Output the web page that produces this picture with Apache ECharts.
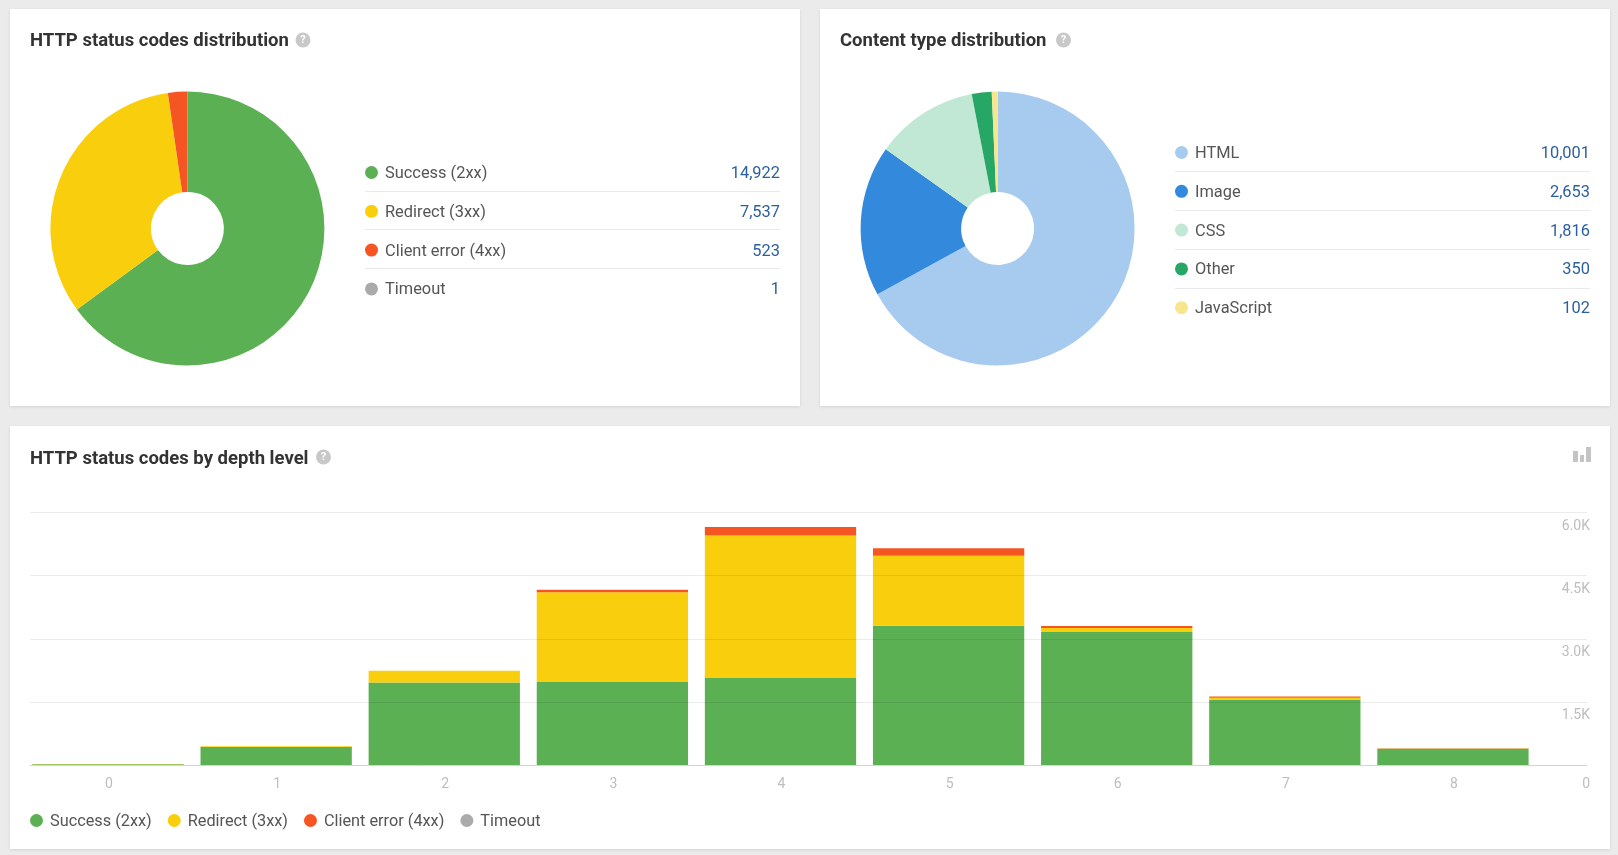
<!DOCTYPE html>
<html>
<head>
<meta charset="utf-8">
<title>Site audit: HTTP status and content types</title>
<style>html,body{margin:0;padding:0;background:#ebebec}#chart{width:1618px;height:855px}</style>
<script src="https://cdn.jsdelivr.net/npm/echarts@6/dist/echarts.min.js"></script>
</head>
<body>
<div id="chart"></div>
<script>
// Status code totals
const statusNames = ['Success (2xx)', 'Redirect (3xx)', 'Client error (4xx)', 'Timeout'];
const statusTotals = [14922, 7537, 523, 1];
const statusColors = ['#5cb054', '#f9cf0d', '#f55423', '#aaaaaa'];

// Content type totals
const contentNames = ['HTML', 'Image', 'CSS', 'Other', 'JavaScript'];
const contentTotals = [10001, 2653, 1816, 350, 102];
const contentColors = ['#a7cbef', '#3389db', '#c0e8d5', '#27a765', '#f8e68f'];

// Status codes per crawl depth
const depthLevels = ['0', '1', '2', '3', '4', '5', '6', '7', '8'];
const successByDepth = [15, 425, 1963, 1970, 2065, 3308, 3158, 1559, 385];
const redirectByDepth = [10, 18, 277, 2137, 3387, 1662, 95, 40, 10];
const clientErrorByDepth = [0, 0, 0, 55, 205, 182, 48, 30, 1];
const timeoutByDepth = [0, 0, 0, 0, 0, 0, 1, 0, 0];
const depthSeries = [successByDepth, redirectByDepth, clientErrorByDepth, timeoutByDepth];

const FONT = 'Roboto, Arial, sans-serif';
const TITLE = '#333333', LABEL = '#555555', VALUE = '#2b5f9e', AXIS = '#bdbdbd', RULE = '#e9e9e9';
const depthMax = 6000, depthStep = 1500;

const fmtTick = v => v === 0 ? '{z|0}' : (v / 1000).toFixed(1) + 'K';

function pie(names, totals, colors, cx) {
  return {
    type: 'pie', center: [cx, 228.5], radius: [36.5, 137], startAngle: 90, clockwise: true,
    label: { show: false }, labelLine: { show: false }, silent: true, animation: false,
    itemStyle: { borderWidth: 0 },
    data: names.map((name, i) => ({ name, value: totals[i], itemStyle: { color: colors[i] } }))
  };
}

function valueLegend(names, totals, left, top, gap) {
  return {
    orient: 'vertical', left, top, itemGap: gap, itemWidth: 13, itemHeight: 13, icon: 'circle',
    selectedMode: false, data: names, padding: 0,
    formatter: n => `{n|${n}}{v|${totals[names.indexOf(n)].toLocaleString('en-US')}}`,
    textStyle: {
      rich: {
        n: { fontFamily: FONT, fontSize: 16.4, color: LABEL, width: 300, align: 'left', padding: [3, 0, 0, 2], lineHeight: 20 },
        v: { fontFamily: FONT, fontSize: 16.4, color: VALUE, width: 95, align: 'right', padding: [3, 0, 0, 0], lineHeight: 20 }
      }
    }
  };
}

function heading(text, left, top) {
  return { text, left, top, padding: 0, textStyle: { fontFamily: FONT, fontSize: 18.5, fontWeight: 'bold', color: TITLE } };
}

// Card backgrounds, row rules and small interface icons
const card = (x, y, width, height) => ({
  type: 'rect', z: -5, silent: true, shape: { x, y, width, height },
  style: { fill: '#ffffff', shadowBlur: 3, shadowColor: 'rgba(0,0,0,0.10)', shadowOffsetY: 1 }
});
const rule = (x1, x2, y) => ({
  type: 'line', z: -4, silent: true, shape: { x1, y1: y, x2, y2: y }, style: { stroke: RULE, lineWidth: 1 }
});
const help = (x, y) => ({
  type: 'group', x, y, z: 5, children: [
    { type: 'circle', shape: { r: 7.5 }, style: { fill: '#c8c8c8' } },
    { type: 'text', style: { text: '?', x: 0, y: 0, align: 'center', verticalAlign: 'middle', fill: '#ffffff', font: 'bold 11px ' + FONT } }
  ]
});
const glyphBar = (x, y, width, height) => ({
  type: 'rect', z: -4, shape: { x, y, width, height }, style: { fill: '#c4c4c4' }
});

const option = {
  animation: false,
  backgroundColor: '#ebebec',
  title: [
    heading('HTTP status codes distribution', 30, 32),
    heading('Content type distribution', 840, 32),
    heading('HTTP status codes by depth level', 30, 450)
  ],
  graphic: { elements: [
    card(10, 9, 790, 397), card(820, 9, 790, 397), card(10, 426, 1600, 423),
    rule(365, 780, 191.5), rule(365, 780, 229.5), rule(365, 780, 268.5),
    rule(1175, 1590, 171.5), rule(1175, 1590, 210.5), rule(1175, 1590, 249.5), rule(1175, 1590, 288.5),
    help(303, 40), help(1063.5, 40), help(323.5, 457),
    glyphBar(1573, 451, 5, 11), glyphBar(1580, 455, 4, 7), glyphBar(1586, 447, 5, 15)
  ] },
  legend: [
    valueLegend(statusNames, statusTotals, 365, 163, 19.8),
    valueLegend(contentNames, contentTotals, 1175, 143, 19.8),
    {
      orient: 'horizontal', left: 30, top: 811, itemGap: 16, itemWidth: 13, itemHeight: 13, icon: 'circle',
      selectedMode: false, data: statusNames, padding: 0,
      formatter: n => `{n|${n}}`,
      textStyle: { rich: { n: { fontFamily: FONT, fontSize: 16.3, color: LABEL, padding: [3, 0, 0, 2], lineHeight: 20 } } }
    }
  ],
  grid: [
    // Bars sit in this grid; its bands set the column widths.
    { left: 24, width: 1513, top: 512.5, height: 252.5 },
    // The rules and value labels run wider than the columns and draw over them.
    { left: 30, width: 1557, top: 512.5, height: 252.5 }
  ],
  xAxis: [
    {
      type: 'category', gridIndex: 0, data: depthLevels,
      axisLine: { show: false }, axisTick: { show: false },
      axisLabel: { color: AXIS, fontFamily: FONT, fontSize: 14, margin: 12, padding: [0, 0, 0, 2] }
    },
    {
      type: 'category', gridIndex: 1, data: [''],
      axisLine: { show: true, lineStyle: { color: '#e6e6e6', width: 1 } },
      axisTick: { show: false }, axisLabel: { show: false }
    }
  ],
  yAxis: [
    { type: 'value', gridIndex: 0, min: 0, max: depthMax, interval: depthStep, show: false },
    {
      type: 'value', gridIndex: 1, min: 0, max: depthMax, interval: depthStep, position: 'right', z: 3,
      axisLine: { show: false }, axisTick: { show: false },
      splitLine: { show: true, lineStyle: { color: 'rgba(0,0,0,0.08)', width: 1 } },
      axisLabel: {
        inside: true, margin: -3, color: AXIS, fontFamily: FONT, fontSize: 14,
        verticalAlign: 'top', lineHeight: 28, formatter: fmtTick,
        rich: { z: { color: AXIS, fontFamily: FONT, fontSize: 14, lineHeight: 38 } }
      }
    }
  ],
  series: [
    pie(statusNames, statusTotals, statusColors, 187.4),
    pie(contentNames, contentTotals, contentColors, 997.6),
    ...statusNames.map((name, i) => ({
      type: 'bar', name, stack: 'depth', xAxisIndex: 0, yAxisIndex: 0, barWidth: 151.3,
      itemStyle: { color: statusColors[i] }, data: depthSeries[i], silent: true
    }))
  ]
};

echarts.init(document.getElementById('chart')).setOption(option);
</script>
</body>
</html>
